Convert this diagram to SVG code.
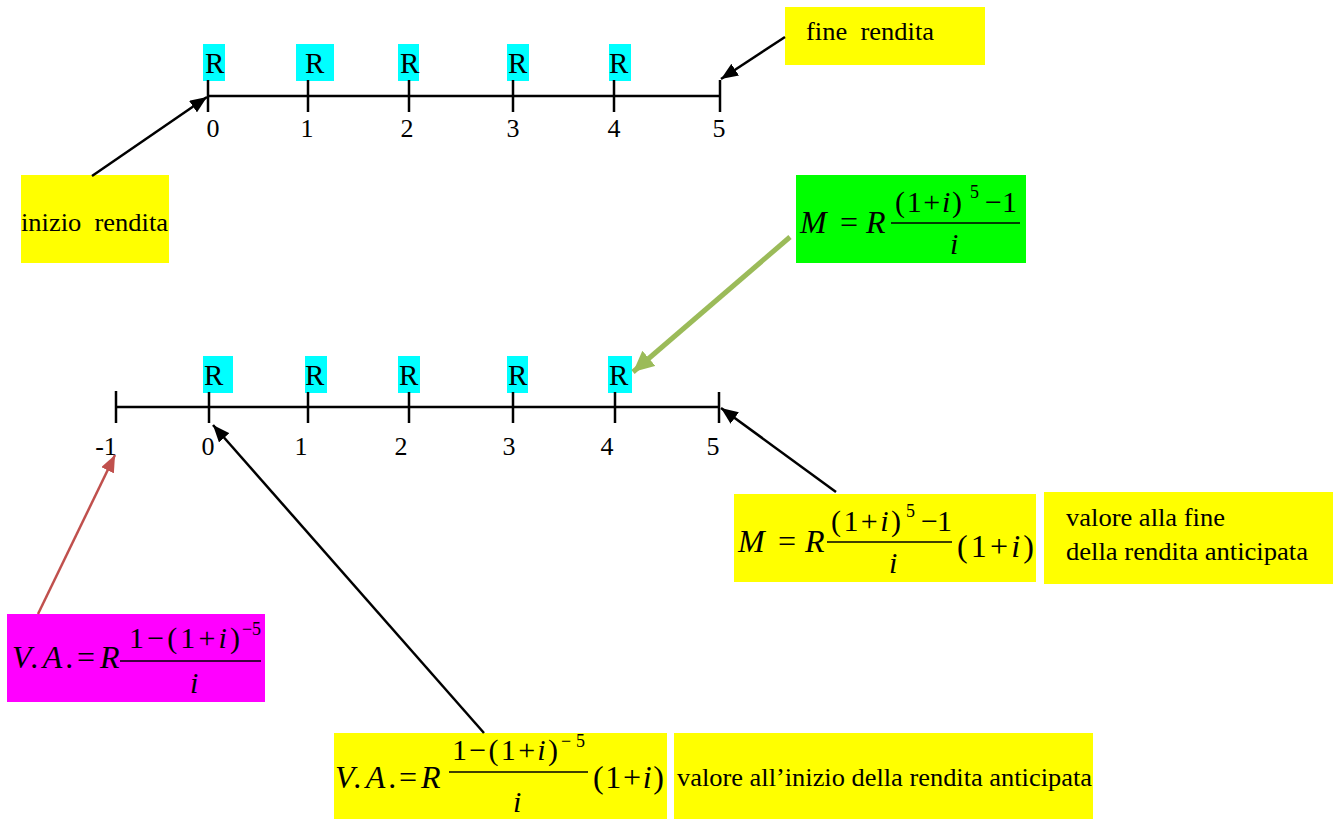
<svg xmlns="http://www.w3.org/2000/svg" width="1342" height="819" viewBox="0 0 1342 819" font-family="'Liberation Serif', 'DejaVu Serif', serif">
<style>
text{font-family:'Liberation Serif','DejaVu Serif',serif;fill:#000}
.lbl{font-size:26px}
.r{font-size:29px}
.f{font-size:32px}
.n{font-size:30px}
.sup{font-size:18px}
.it{font-style:italic}
.axis{stroke:#000;stroke-width:2.5;fill:none}
.bar{stroke:#000;stroke-width:1.5}
.conn{stroke:#000;stroke-width:2.5;fill:none}
.cyan{fill:#00FFFF}
.yel{fill:#FFFF00}
</style>
<defs>
<marker id="ah" markerUnits="userSpaceOnUse" markerWidth="18" markerHeight="14" refX="17" refY="7" orient="auto"><path d="M0,0 L17,7 L0,14 z" fill="#000"/></marker>
<marker id="ahg" markerUnits="userSpaceOnUse" markerWidth="22" markerHeight="20" refX="21" refY="10" orient="auto"><path d="M0,0 L21,10 L0,20 z" fill="#9BBB59"/></marker>
<marker id="ahr" markerUnits="userSpaceOnUse" markerWidth="18" markerHeight="14" refX="17" refY="7" orient="auto"><path d="M0,0 L17,7 L0,14 z" fill="#C0504D"/></marker>
</defs>

<g id="timeline-top">
<rect class="cyan" x="203" y="44" width="22" height="37"/>
<rect class="cyan" x="296" y="44" width="38" height="37"/>
<rect class="cyan" x="398" y="44" width="21" height="37"/>
<rect class="cyan" x="507" y="44" width="22" height="37"/>
<rect class="cyan" x="609" y="44" width="22" height="37"/>
<text class="r" x="205" y="73">R</text>
<text class="r" x="305" y="73">R</text>
<text class="r" x="400" y="73">R</text>
<text class="r" x="508" y="73">R</text>
<text class="r" x="609" y="73">R</text>
<line class="axis" x1="208" y1="96" x2="720" y2="96"/>
<line class="axis" x1="208" y1="80" x2="208" y2="112"/>
<line class="axis" x1="308" y1="80" x2="308" y2="112"/>
<line class="axis" x1="409" y1="80" x2="409" y2="112"/>
<line class="axis" x1="513" y1="80" x2="513" y2="112"/>
<line class="axis" x1="614" y1="80" x2="614" y2="112"/>
<line class="axis" x1="720" y1="80" x2="720" y2="112"/>
<text class="lbl" x="213" y="137" text-anchor="middle">0</text>
<text class="lbl" x="307" y="137" text-anchor="middle">1</text>
<text class="lbl" x="407" y="137" text-anchor="middle">2</text>
<text class="lbl" x="513" y="137" text-anchor="middle">3</text>
<text class="lbl" x="614" y="137" text-anchor="middle">4</text>
<text class="lbl" x="719" y="137" text-anchor="middle">5</text>
</g>

<g id="timeline-bottom">
<rect class="cyan" x="203" y="356" width="30" height="37"/>
<rect class="cyan" x="305" y="356" width="22" height="37"/>
<rect class="cyan" x="398" y="356" width="22" height="37"/>
<rect class="cyan" x="507" y="356" width="21" height="37"/>
<rect class="cyan" x="608" y="356" width="24" height="37"/>
<text class="r" x="204" y="385">R</text>
<text class="r" x="305" y="385">R</text>
<text class="r" x="399" y="385">R</text>
<text class="r" x="508" y="385">R</text>
<text class="r" x="609" y="385">R</text>
<line class="axis" x1="116" y1="407" x2="720" y2="407"/>
<line class="axis" x1="116" y1="391" x2="116" y2="423"/>
<line class="axis" x1="209" y1="392" x2="209" y2="423"/>
<line class="axis" x1="308" y1="392" x2="308" y2="423"/>
<line class="axis" x1="409" y1="392" x2="409" y2="423"/>
<line class="axis" x1="513" y1="392" x2="513" y2="423"/>
<line class="axis" x1="615" y1="392" x2="615" y2="423"/>
<line class="axis" x1="719" y1="392" x2="719" y2="423"/>
<text class="lbl" x="106" y="455" text-anchor="middle">-1</text>
<text class="lbl" x="208" y="455" text-anchor="middle">0</text>
<text class="lbl" x="301" y="455" text-anchor="middle">1</text>
<text class="lbl" x="401" y="455" text-anchor="middle">2</text>
<text class="lbl" x="509" y="455" text-anchor="middle">3</text>
<text class="lbl" x="607" y="455" text-anchor="middle">4</text>
<text class="lbl" x="713" y="455" text-anchor="middle">5</text>
</g>

<g id="inizio-rendita">
<rect class="yel" x="21" y="175" width="148" height="88"/>
<text class="lbl" x="21" y="231" textLength="147" lengthAdjust="spacingAndGlyphs" xml:space="preserve">inizio  rendita</text>
</g>

<g id="fine-rendita">
<rect class="yel" x="785" y="7" width="200" height="58"/>
<text class="lbl" x="806" y="40" textLength="128" lengthAdjust="spacingAndGlyphs" xml:space="preserve">fine  rendita</text>
</g>

<g id="montante">
<rect fill="#00FF00" x="796" y="175" width="230" height="88"/>
<text class="f it" x="800" y="233">M</text>
<text class="f" x="840" y="233">=</text>
<text class="f it" x="866" y="233">R</text>
<text class="n" x="895" y="212" textLength="67" lengthAdjust="spacing">(1+<tspan class="it">i</tspan>)</text>
<text class="sup" x="970" y="198">5</text>
<text class="n" x="985" y="212" textLength="32" lengthAdjust="spacing">−1</text>
<line class="bar" x1="891" y1="223" x2="1020" y2="223"/>
<text class="n it" x="950" y="254">i</text>
</g>

<g id="montante-anticipata">
<rect class="yel" x="734" y="494" width="302" height="88"/>
<text class="f it" x="738" y="552">M</text>
<text class="f" x="778" y="552">=</text>
<text class="f it" x="805" y="552">R</text>
<text class="n" x="831" y="531" textLength="70" lengthAdjust="spacing">(1+<tspan class="it">i</tspan>)</text>
<text class="sup" x="906" y="517">5</text>
<text class="n" x="921" y="531" textLength="31" lengthAdjust="spacing">−1</text>
<line class="bar" x1="827" y1="542" x2="952" y2="542"/>
<text class="n it" x="889" y="573">i</text>
<text class="f" x="957" y="557" textLength="77" lengthAdjust="spacing">(1+<tspan class="it">i</tspan>)</text>
</g>

<g id="desc-fine">
<rect class="yel" x="1044" y="492" width="289" height="92"/>
<text class="lbl" x="1066" y="526" textLength="159" lengthAdjust="spacingAndGlyphs">valore alla fine</text>
<text class="lbl" x="1066" y="560" textLength="242" lengthAdjust="spacingAndGlyphs">della rendita anticipata</text>
</g>

<g id="valore-attuale">
<rect fill="#FF00FF" x="7" y="614" width="258" height="88"/>
<text class="f it" x="12" y="668" textLength="62" lengthAdjust="spacing">V.A.</text>
<text class="f" x="77" y="668">=</text>
<text class="f it" x="100" y="668">R</text>
<text class="n" x="129" y="648" textLength="111" lengthAdjust="spacing">1−(1+<tspan class="it">i</tspan>)</text>
<text class="sup" x="242" y="635" textLength="19" lengthAdjust="spacing">−5</text>
<line class="bar" x1="120" y1="661" x2="261" y2="661"/>
<text class="n it" x="190" y="693">i</text>
</g>

<g id="valore-attuale-anticipata">
<rect class="yel" x="334" y="733" width="333" height="86"/>
<text class="f it" x="335" y="788" textLength="62" lengthAdjust="spacing">V.A.</text>
<text class="f" x="399" y="788">=</text>
<text class="f it" x="421" y="788">R</text>
<text class="n" x="452" y="760" textLength="106" lengthAdjust="spacing">1−(1+<tspan class="it">i</tspan>)</text>
<text class="sup" x="561" y="747" textLength="24" lengthAdjust="spacing">−5</text>
<line class="bar" x1="449" y1="772" x2="588" y2="772"/>
<text class="n it" x="513" y="812">i</text>
<text class="f" x="593" y="788" textLength="71" lengthAdjust="spacing">(1+<tspan class="it">i</tspan>)</text>
</g>

<g id="desc-inizio">
<rect class="yel" x="674" y="733" width="419" height="86"/>
<text class="lbl" x="677" y="786" textLength="415" lengthAdjust="spacingAndGlyphs">valore all’inizio della rendita anticipata</text>
</g>

<g id="connectors">
<line class="conn" x1="92" y1="176" x2="207" y2="97" marker-end="url(#ah)"/>
<line class="conn" x1="785" y1="37" x2="721" y2="79" marker-end="url(#ah)"/>
<line stroke="#9BBB59" stroke-width="5" x1="790" y1="237" x2="633" y2="372" marker-end="url(#ahg)"/>
<line class="conn" x1="836" y1="492" x2="721" y2="408" marker-end="url(#ah)"/>
<line class="conn" x1="484" y1="733" x2="213" y2="425" marker-end="url(#ah)"/>
<line stroke="#C0504D" stroke-width="2.5" x1="38" y1="614" x2="115" y2="455" marker-end="url(#ahr)"/>
</g>
</svg>
